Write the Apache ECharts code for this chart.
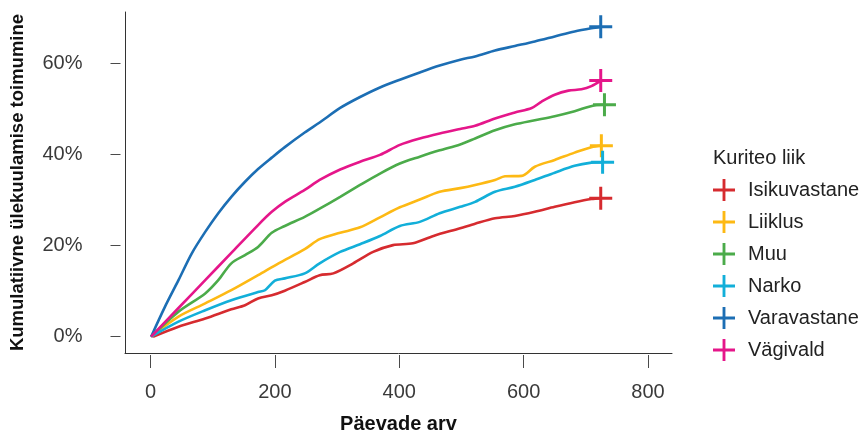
<!DOCTYPE html>
<html>
<head>
<meta charset="utf-8">
<script src="https://cdn.jsdelivr.net/npm/echarts@6/dist/echarts.min.js"></script>
<style>html,body{margin:0;padding:0;background:#fff}#c{width:864px;height:433px}</style>
</head>
<body>
<div id="c"></div>
<script>
// ---- data ----
const seriesNames = ['Isikuvastane', 'Liiklus', 'Muu', 'Narko', 'Varavastane', 'Vägivald'];
const seriesColors = ['#D62B2F', '#FDB914', '#4BAB4A', '#12AFD9', '#1C6EB4', '#E5168A'];

const isikuvastaneDays = [4, 45, 88, 130, 152, 173, 195, 216, 248, 272, 294, 326, 358, 390, 422, 455, 498, 522, 554, 586, 618, 650, 682, 709, 724];
const isikuvastaneVals = [0, 2.2, 4.0, 6.0, 6.9, 8.4, 9.1, 10.1, 12.0, 13.5, 13.9, 16.1, 18.6, 20.1, 20.5, 22.1, 23.8, 24.8, 26.0, 26.5, 27.4, 28.5, 29.5, 30.2, 30.4];

const liiklusDays = [1, 45, 88, 130, 173, 206, 248, 272, 305, 337, 369, 401, 433, 465, 498, 522, 554, 570, 597, 618, 650, 682, 709, 725];
const liiklusVals = [0, 4.4, 7.3, 10.2, 13.5, 16.1, 19.2, 21.4, 22.8, 24.0, 26.2, 28.4, 30.1, 31.8, 32.6, 33.3, 34.4, 35.2, 35.3, 37.3, 38.8, 40.4, 41.6, 41.9];

const muuDays = [1, 45, 88, 109, 130, 152, 173, 195, 216, 248, 272, 305, 337, 369, 401, 433, 465, 498, 522, 554, 586, 618, 650, 682, 715, 730];
const muuVals = [0, 5.5, 9.5, 12.4, 16.1, 17.9, 19.7, 22.8, 24.3, 26.3, 28.1, 30.7, 33.3, 35.8, 38.0, 39.5, 40.9, 42.2, 43.5, 45.3, 46.6, 47.5, 48.4, 49.5, 50.8, 50.9];

const narkoDays = [1, 45, 88, 130, 173, 184, 200, 216, 248, 272, 305, 337, 369, 401, 433, 465, 498, 522, 554, 586, 618, 650, 682, 709, 727];
const narkoVals = [0, 3.3, 5.8, 8.0, 9.8, 10.2, 12.3, 12.8, 13.9, 16.1, 18.6, 20.3, 22.1, 24.3, 25.2, 27.1, 28.5, 29.6, 31.8, 32.9, 34.4, 36.0, 37.5, 38.2, 38.3];

const varavastaneDays = [1, 23, 45, 66, 88, 109, 130, 152, 173, 195, 216, 248, 272, 305, 337, 369, 401, 433, 465, 498, 522, 554, 586, 618, 650, 682, 709, 724];
const varavastaneVals = [0, 6.5, 12.4, 18.2, 23.0, 27.1, 30.7, 34.0, 36.8, 39.3, 41.6, 44.8, 47.0, 50.2, 52.6, 54.7, 56.4, 58.0, 59.5, 60.8, 61.5, 62.8, 63.8, 64.8, 65.9, 67.0, 67.7, 68.0];

const vagivaldDays = [1, 45, 88, 130, 173, 195, 216, 248, 272, 305, 337, 369, 401, 433, 465, 498, 522, 554, 586, 613, 629, 650, 672, 693, 709, 724];
const vagivaldVals = [0, 6.3, 12.4, 18.4, 24.5, 27.4, 29.6, 32.2, 34.4, 36.7, 38.4, 39.9, 42.1, 43.5, 44.6, 45.6, 46.3, 47.9, 49.2, 50.2, 51.6, 53.1, 54.0, 54.3, 55.0, 56.2];

const xTicks = [0, 200, 400, 600, 800];
const yTicks = [0, 20, 40, 60];

const allDays = [isikuvastaneDays, liiklusDays, muuDays, narkoDays, varavastaneDays, vagivaldDays];
const allVals = [isikuvastaneVals, liiklusVals, muuVals, narkoVals, varavastaneVals, vagivaldVals];

// ---- chart ----
const CROSS = 'path://M8.7,0H11.3V20H8.7Z M0,8.7H20V11.3H0Z';
const FONT = 'Liberation Sans, Arial, sans-serif';
const X_MIN = -41, X_MAX = 838.6, Y_MIN = -3.58, Y_MAX = 71.26;

const series = [];
seriesNames.forEach((name, i) => {
  const d = allDays[i], v = allVals[i];
  const n = d.length - 1;
  series.push({
    name: name, type: 'scatter', xAxisIndex: 0, yAxisIndex: 0,
    data: [[d[n], v[n]]], symbol: CROSS, symbolSize: 23, z: 4,
    itemStyle: { color: seriesColors[i], opacity: 1 }, silent: true
  });
});
seriesNames.forEach((name, i) => {
  const d = allDays[i], v = allVals[i];
  series.push({
    name: name, type: 'line', xAxisIndex: 0, yAxisIndex: 0,
    data: d.map((x, k) => [x, v[k]]),
    showSymbol: false, symbol: 'none', smooth: 0.3,
    lineStyle: { color: seriesColors[i], width: 2.6 },
    itemStyle: { color: seriesColors[i] }, z: 2, silent: true
  });
});

const chart = echarts.init(document.getElementById('c'), null, { renderer: 'canvas' });
chart.setOption({
  animation: false,
  backgroundColor: '#ffffff',
  grid: { left: 125, right: 192, top: 12, bottom: 80, containLabel: false, outerBoundsMode: 'none' },
  xAxis: [
    { type: 'value', min: X_MIN, max: X_MAX, position: 'bottom',
      axisLine: { show: true, onZero: false, lineStyle: { color: '#333', width: 1 } },
      axisTick: { show: false }, axisLabel: { show: false }, splitLine: { show: false } },
    { type: 'value', min: X_MIN, max: X_MAX, position: 'bottom', offset: 2,
      axisLine: { show: false, onZero: false },
      axisTick: { show: true, length: 13, customValues: xTicks, lineStyle: { color: '#4a4a4a', width: 1 } },
      axisLabel: { show: true, customValues: xTicks, margin: 27, fontSize: 20, color: '#3a3a3a', fontFamily: FONT },
      splitLine: { show: false },
      name: 'Päevade arv', nameLocation: 'middle', nameGap: 59,
      nameTextStyle: { fontSize: 20, fontWeight: 'bold', color: '#111', fontFamily: FONT } }
  ],
  yAxis: [
    { type: 'value', min: Y_MIN, max: Y_MAX, position: 'left',
      axisLine: { show: true, onZero: false, lineStyle: { color: '#333', width: 1 } },
      axisTick: { show: false }, axisLabel: { show: false }, splitLine: { show: false } },
    { type: 'value', min: Y_MIN, max: Y_MAX, position: 'left', offset: 4.5,
      axisLine: { show: false, onZero: false },
      axisTick: { show: true, length: 10, customValues: yTicks, lineStyle: { color: '#4a4a4a', width: 1 } },
      axisLabel: { show: true, customValues: yTicks, margin: 38, fontSize: 20, color: '#3a3a3a', fontFamily: FONT,
        formatter: v => v + '%' },
      splitLine: { show: false },
      name: 'Kumulatiivne ülekuulamise toimumine', nameLocation: 'middle', nameGap: 93, nameRotate: 90,
      nameTextStyle: { fontSize: 18.5, fontWeight: 'bold', color: '#111', fontFamily: FONT } }
  ],
  title: {
    text: 'Kuriteo liik', left: 713, top: 148, padding: 0,
    textStyle: { fontSize: 20, fontWeight: 'normal', color: '#222', fontFamily: FONT }
  },
  legend: {
    orient: 'vertical', left: 713, top: 179, padding: 0,
    itemWidth: 38, itemHeight: 22, itemGap: 10, symbolKeepAspect: true,
    icon: CROSS,
    data: seriesNames.map((n, i) => ({ name: n, icon: CROSS, itemStyle: { color: seriesColors[i] } })),
    textStyle: { fontSize: 20, color: '#222', fontFamily: FONT },
    selectedMode: false
  },
  series: series
});
</script>
</body>
</html>
